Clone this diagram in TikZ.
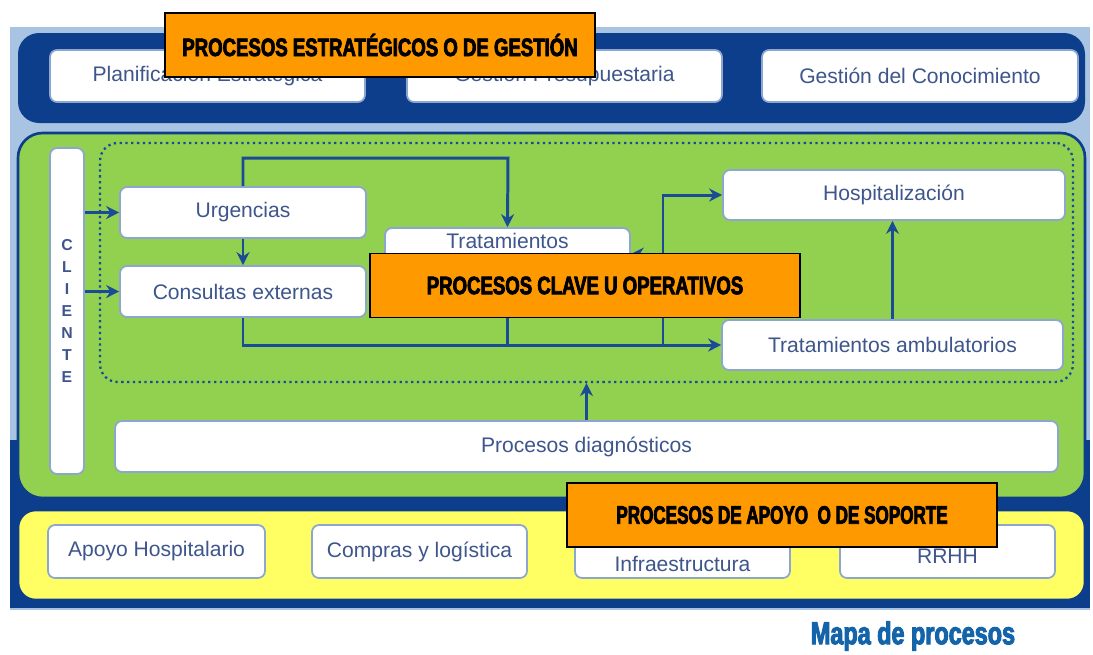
\documentclass[tikz,border=0pt]{standalone}
\usepackage{fontspec}
\setmainfont{Liberation Sans}
\newfontfamily\headfont[FakeStretch=0.74,FakeBold=3]{Liberation Sans Bold}
\usetikzlibrary{arrows.meta,positioning}

\begin{document}
\begin{tikzpicture}[
    x=0.02cm, y=-0.02cm,
    font=\fontsize{12}{14}\selectfont,
    >=latex,
]

\definecolor{bgColor}{RGB}{168, 196, 226}
\definecolor{bandColor}{RGB}{12, 62, 140}
\definecolor{greenColor}{RGB}{146, 208, 80}
\definecolor{yellowColor}{RGB}{255, 255, 100}
\definecolor{orangeColor}{RGB}{255, 153, 0}
\definecolor{boxText}{RGB}{62, 86, 140}
\definecolor{boxBorder}{RGB}{140, 166, 208}
\definecolor{arrowColor}{RGB}{25, 75, 150}
\definecolor{mapColor}{RGB}{20, 100, 170}

\tikzset{
    proc/.style = {rectangle, rounded corners=4pt, draw=boxBorder, line width=1pt,
                   fill=white, text=boxText, inner sep=0pt, align=center},
    dotbox/.style = {rectangle, rounded corners=10pt, draw=arrowColor, dotted, line width=1.3pt,
                     minimum width=19.46cm, minimum height=4.78cm},
    title/.style = {rectangle, draw=black, line width=1pt, fill=orangeColor,
                    minimum width=8.6cm, minimum height=1.28cm,
                    font=\headfont\fontsize{14.3}{16}\selectfont},
    arrow/.style = {line width=1.7pt, draw=arrowColor, -{Stealth[length=2.6mm, width=2.6mm]}},
    link/.style = {line width=1.7pt, draw=arrowColor}
}

\useasboundingbox (0,0) rectangle (1093,654);

% =========== BANDS ===========
\fill[bgColor] (10,27) rectangle (1090,610);
\fill[bandColor] (10,440) rectangle (1090,608);
\fill[bandColor, rounded corners=12pt] (18,33) rectangle (1085,123);
\draw[bandColor, line width=1.5pt, fill=greenColor, rounded corners=14pt] (18,133) rectangle (1085,498);
\draw[bandColor, line width=1.5pt, fill=yellowColor, rounded corners=10pt] (18,510) rectangle (1085,600);

% =========== STRATEGIC ===========
\node[proc, minimum width=6.3cm, minimum height=1.04cm] (planif) at (207.5,76) {Planificación Estratégica};
\node[proc, minimum width=6.3cm, minimum height=1.04cm] (presup) at (564.5,76) {Gestión Presupuestaria};
\node[proc, minimum width=6.32cm, minimum height=1.04cm] (conoc) at (920,76) {Gestión del Conocimiento};

% =========== KEY PROCESSES ===========
\node[proc, minimum width=0.68cm, minimum height=6.52cm,
      font=\bfseries\fontsize{9}{12.5}\selectfont] (cliente) at (67,311) {C\\L\\I\\E\\N\\T\\E};
\node[dotbox] (clave_area) at (586.5,262.5) {};

\node[proc, minimum width=4.92cm, minimum height=1.02cm] (urgencias) at (243,212.5) {Urgencias};
\node[proc, minimum width=4.92cm, minimum height=1.02cm] (consultas) at (243,291.5) {Consultas externas};
\node[proc, minimum width=4.9cm, minimum height=1.04cm, text depth=0.52cm] (tratamientos) at (507.5,254) {Tratamientos};
\node[proc, minimum width=6.84cm, minimum height=1cm] (hospital) at (894,195) {Hospitalización};
\node[proc, minimum width=6.82cm, minimum height=1cm] (trat_amb) at (892.5,345) {Tratamientos ambulatorios};
\node[proc, minimum width=18.86cm, minimum height=1.02cm] (diagnostico) at (586.5,446.5) {Procesos diagnósticos};

% flows
\coordinate (upper_turn) at (508,158);
\coordinate (branch) at (663,345);

\draw[arrow] (cliente.east |- urgencias.west) -- (urgencias.west);
\draw[arrow] (cliente.east |- consultas.west) -- (consultas.west);
\draw[arrow] (urgencias.south) -- (consultas.north);
\draw[arrow] (urgencias.north) |- (upper_turn) -- (tratamientos.north);
\draw[arrow] (consultas.south) |- (trat_amb.west);
\draw[link] (tratamientos.south) -- (tratamientos.south |- trat_amb.west);
\draw[arrow] (branch) |- (hospital.west);
\draw[arrow] (branch |- tratamientos.east) -- (tratamientos.east);
\draw[arrow] (trat_amb.north) -- (trat_amb.north |- hospital.south);
\draw[arrow] (diagnostico.north) -- (diagnostico.north |- clave_area.south);

% =========== SUPPORT ===========
\node[proc, minimum width=4.34cm, minimum height=1.06cm] (apoyo_hosp) at (156.5,551.5) {Apoyo Hospitalario};
\node[proc, minimum width=4.3cm, minimum height=1.06cm] (compras) at (419.5,551.5) {Compras y logística};
\node[proc, minimum width=4.3cm, minimum height=1.06cm, text height=0.8cm] (infraestr) at (682.5,551.5) {Infraestructura};
\node[proc, minimum width=4.3cm, minimum height=1.06cm, text height=0.46cm] (rrhh) at (947.5,551.5) {RRHH};

% =========== HEADINGS ===========
\node[title] (titulo_estr) at (380,45) {PROCESOS ESTRATÉGICOS O DE GESTIÓN\hspace{0.3cm}};
\node[title] (titulo_clave) at (585,285.5) {PROCESOS CLAVE U OPERATIVOS};
\node[title] (titulo_apoyo) at (782,515)
    {\addfontfeature{FakeStretch=0.68}PROCESOS DE APOYO\ \ O DE SOPORTE\hspace{0.6cm}};

\node[font=\headfont\fontsize{18}{20}\selectfont, text=mapColor] (mapa) at (913,636) {Mapa de procesos};

\end{tikzpicture}
\end{document}
